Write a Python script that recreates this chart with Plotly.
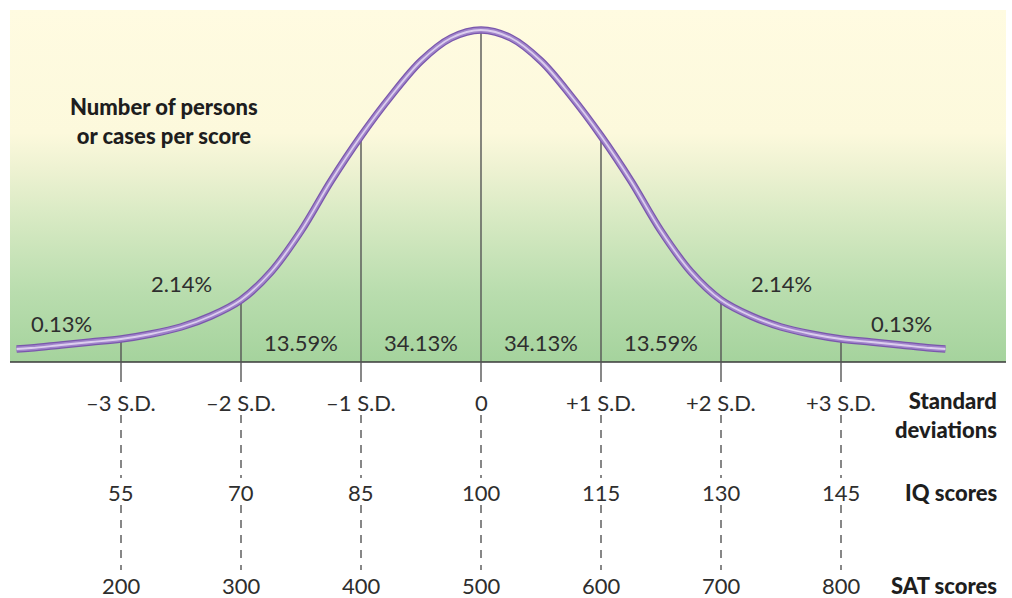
import plotly.graph_objects as go

# ---- data ----
# curve: position in S.D. units and height (arbitrary units above baseline), left half; right half mirrors
curve_sd_left = [-3.87, -3.75, -3.5, -3.25, -3.0, -2.75, -2.5, -2.25, -2.0, -1.75, -1.5, -1.25,
                 -1.0, -0.75, -0.5, -0.25, 0.0]
curve_h_left = [13, 14, 17, 20, 23, 28, 35, 46, 62, 90, 131, 181,
                226, 266, 301, 324, 332]

sd_positions = [-3, -2, -1, 0, 1, 2, 3]
sd_labels = ["–3 S.D.", "–2 S.D.", "–1 S.D.", "0", "+1 S.D.", "+2 S.D.", "+3 S.D."]
iq_labels = ["55", "70", "85", "100", "115", "130", "145"]
sat_labels = ["200", "300", "400", "500", "600", "700", "800"]

pct_positions = [-3.5, -2.5, -1.5, -0.5, 0.5, 1.5, 2.5, 3.5]
pct_labels = ["0.13%", "2.14%", "13.59%", "34.13%", "34.13%", "13.59%", "2.14%", "0.13%"]

# ---- build full curve ----
curve_sd = curve_sd_left + [-s for s in reversed(curve_sd_left[:-1])]
curve_h = curve_h_left + list(reversed(curve_h_left[:-1]))
h_at = {s: h for s, h in zip(curve_sd, curve_h)}

# geometry (axis units): 120 px per S.D., 1 unit per px vertically
X_MIN, X_MAX = -481 / 120, (1012 - 481) / 120
Y_MIN, Y_MAX = -236, 362
BG_LEFT, BG_RIGHT, BG_TOP = (10 - 481) / 120, (1006 - 481) / 120, 352

fig = go.Figure()

# gradient background
fig.add_trace(go.Scatter(
    x=[BG_LEFT, BG_RIGHT, BG_RIGHT, BG_LEFT, BG_LEFT],
    y=[0, 0, BG_TOP, BG_TOP, 0],
    mode="lines", line=dict(width=0), fill="toself",
    fillgradient=dict(type="vertical", start=0, stop=BG_TOP,
                      colorscale=[[0, "#A5D39D"], [0.2, "#B9DDAE"], [0.4, "#D6E9C2"],
                                  [0.55, "#EEF2D2"], [0.65, "#FCF9DC"], [1, "#FFFBE1"]]),
    hoverinfo="skip", showlegend=False))

# baseline
fig.add_trace(go.Scatter(x=[BG_LEFT, BG_RIGHT], y=[0, 0], mode="lines",
                         line=dict(color="#3a3a3a", width=1.6), hoverinfo="skip", showlegend=False))

# solid vertical lines from just below baseline up to the curve, and dashed connectors
for s in sd_positions:
    fig.add_trace(go.Scatter(x=[s, s], y=[-20, h_at[float(s)]], mode="lines",
                             line=dict(color="#555555", width=1.4), hoverinfo="skip", showlegend=False))
    fig.add_trace(go.Scatter(x=[s, s], y=[-53, -116], mode="lines",
                             line=dict(color="#555555", width=1.4, dash="8px,7px"),
                             hoverinfo="skip", showlegend=False))
    fig.add_trace(go.Scatter(x=[s, s], y=[-143, -208], mode="lines",
                             line=dict(color="#555555", width=1.4, dash="8px,7px"),
                             hoverinfo="skip", showlegend=False))

# bell curve (layered strokes)
for col, w in [("#7A57AC", 7.5), ("#A084CA", 5), ("#DCCEEE", 1.8)]:
    fig.add_trace(go.Scatter(x=curve_sd, y=curve_h, mode="lines",
                             line=dict(color=col, width=w, shape="spline", smoothing=1.0),
                             hoverinfo="skip", showlegend=False))

LIGHT_FONT = dict(family="Lato, Open Sans, sans-serif", size=22, color="#2e2e2e")
BOLD_FONT = dict(family="Lato, Open Sans, sans-serif", size=22, color="#1e1e1e", weight=900)

for s, lab in zip(pct_positions, pct_labels):
    if lab == "0.13%":
        y = 39
    elif lab == "2.14%":
        y = 79
    else:
        y = 20
    fig.add_annotation(x=s, y=y, text=lab, showarrow=False, font=LIGHT_FONT,
                       xanchor="center", yanchor="middle")

for s, a, b, c in zip(sd_positions, sd_labels, iq_labels, sat_labels):
    fig.add_annotation(x=s, y=-40, text=a, showarrow=False, font=LIGHT_FONT, yanchor="middle")
    fig.add_annotation(x=s, y=-130, text=b, showarrow=False, font=LIGHT_FONT, yanchor="middle")
    fig.add_annotation(x=s, y=-223, text=c, showarrow=False, font=LIGHT_FONT, yanchor="middle")

RIGHT_X = (999 - 481) / 120
fig.add_annotation(x=RIGHT_X, y=-53, text="Standard<br>deviations", showarrow=False,
                   font=BOLD_FONT, xanchor="right", yanchor="middle", align="right")
fig.add_annotation(x=RIGHT_X, y=-130, text="IQ scores", showarrow=False,
                   font=BOLD_FONT, xanchor="right", yanchor="middle")
fig.add_annotation(x=RIGHT_X, y=-223, text="SAT scores", showarrow=False,
                   font=BOLD_FONT, xanchor="right", yanchor="middle")

fig.add_annotation(x=(164 - 481) / 120, y=241, text="Number of persons<br>or cases per score",
                   showarrow=False, font=BOLD_FONT, xanchor="center", yanchor="middle", align="center")

fig.update_layout(
    width=1012, height=598, margin=dict(l=0, r=0, t=0, b=0),
    paper_bgcolor="white", plot_bgcolor="white",
    xaxis=dict(range=[X_MIN, X_MAX], visible=False, fixedrange=True),
    yaxis=dict(range=[Y_MIN, Y_MAX], visible=False, fixedrange=True),
    showlegend=False,
)

fig.write_html("out.html", config={"displayModeBar": False},
               post_script="document.body.style.margin='0px';document.body.style.overflow='hidden';")
